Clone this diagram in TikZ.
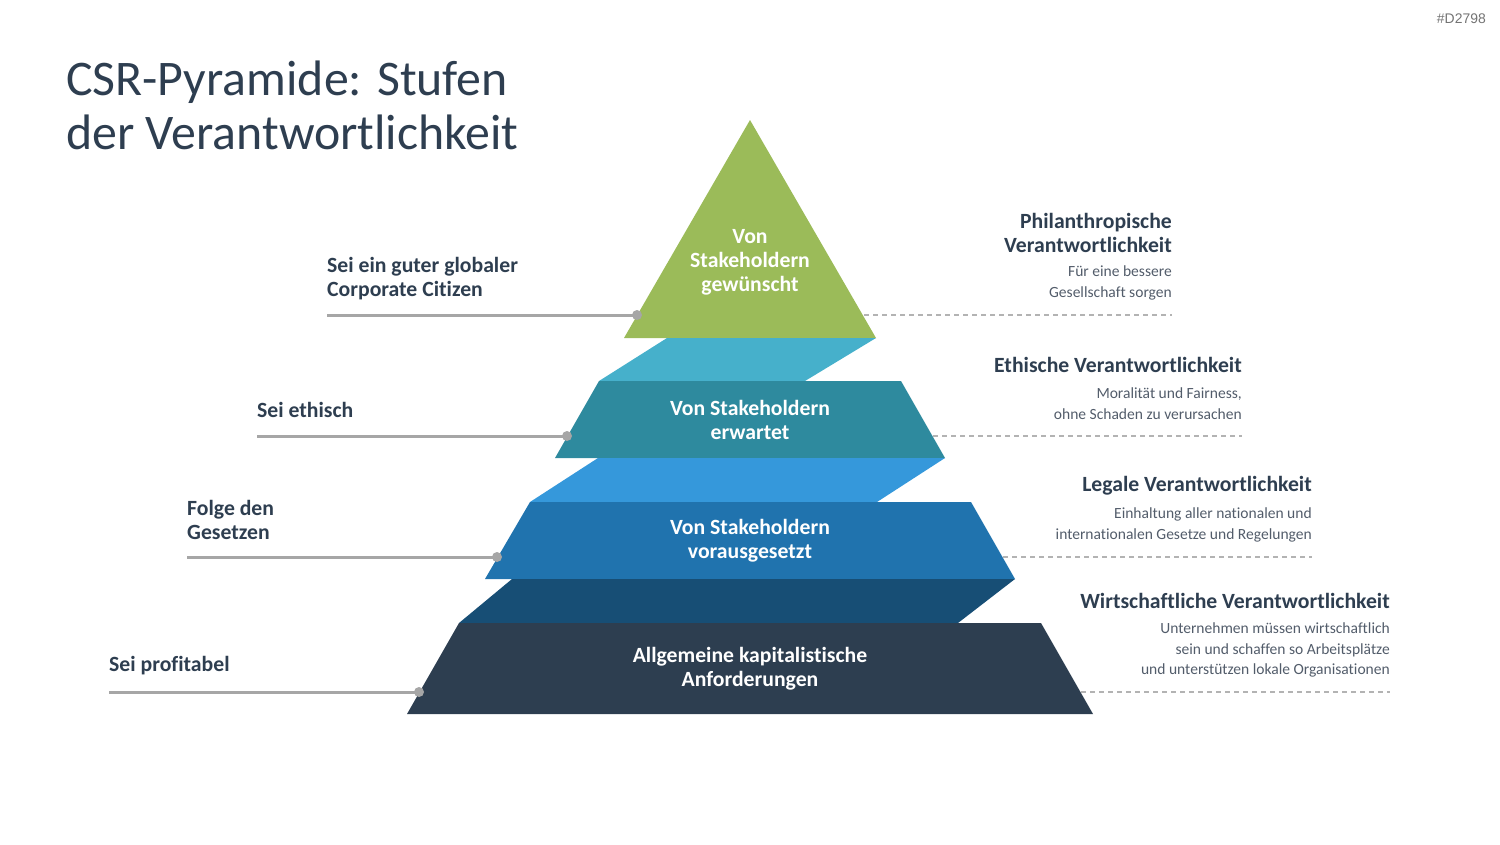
\documentclass[tikz,border=0pt]{standalone}
\usepackage{fontspec}
\setmainfont{Carlito}[Ligatures=CommonOff]
\newfontfamily\tagfont{Liberation Sans}
\usetikzlibrary{positioning}
\definecolor{ink}{RGB}{46,62,80}
\definecolor{descgray}{RGB}{82,92,106}
\definecolor{leadgray}{RGB}{166,166,166}
\definecolor{lvtop}{RGB}{155,187,89}
\definecolor{bandA}{RGB}{70,176,203}
\definecolor{lvtwo}{RGB}{46,138,158}
\definecolor{bandB}{RGB}{53,152,219}
\definecolor{lvthree}{RGB}{32,115,174}
\definecolor{bandC}{RGB}{23,78,117}
\definecolor{lvbase}{RGB}{45,62,80}
\tikzset{
  lvltext/.style ={text=white, align=center, inner sep=0pt,
                   font=\fontsize{21.8}{24}\selectfont\bfseries},
  goal/.style    ={text=ink, align=left, anchor=west, inner sep=0pt,
                   font=\fontsize{21.8}{24}\selectfont\bfseries},
  restitle/.style={text=ink, align=right, anchor=east, inner sep=0pt,
                   font=\fontsize{21.8}{24}\selectfont\bfseries},
  resdesc/.style ={text=descgray, align=right, anchor=east, inner sep=0pt,
                   font=\fontsize{15.6}{21}\selectfont},
  leader/.style  ={draw=leadgray, line width=3bp},
  dashlead/.style={draw=leadgray!85, line width=1.3bp, dash pattern=on 5bp off 4bp},
  pin/.style     ={circle, fill=leadgray, inner sep=0pt, minimum size=10bp},
}

\begin{document}
\begin{tikzpicture}[x=1bp, y=-1bp]
    \useasboundingbox (0,0) rectangle (1500,844);

    % title and tag
    \node[text=ink, align=left, anchor=west, inner sep=0pt,
          font=\fontsize{50}{54}\selectfont] (title) at (66,105)
        {CSR-Pyramide: Stufen\\der Verantwortlichkeit};
    \node[text=black!55, anchor=east, inner sep=0pt,
          font=\tagfont\fontsize{14}{16}\selectfont] (tag) at (1486,19) {\#D2798};

    % pyramid levels (top to bottom)
    \fill[lvtop]   (750,120) -- (876,338) -- (624,338) -- cycle;
    \fill[bandA]   (667,338) -- (876,338) -- (805,381) -- (599,381) -- cycle;
    \fill[lvtwo]   (599,381) -- (901,381) -- (945,458) -- (555,458) -- cycle;
    \fill[bandB]   (598,458) -- (945,458) -- (877,502) -- (530,502) -- cycle;
    \fill[lvthree] (530,502) -- (971,502) -- (1015,579) -- (485,579) -- cycle;
    \fill[bandC]   (512,579) -- (1015,579) -- (958,623) -- (459,623) -- cycle;
    \fill[lvbase]  (459,623) -- (1041,623) -- (1093,714) -- (407,714) -- cycle;

    \node[lvltext] (l1) at (750,262) {Von\\Stakeholdern\\gewünscht};
    \node[lvltext] (l2) at (750,420) {Von Stakeholdern\\erwartet};
    \node[lvltext] (l3) at (750,541) {Von Stakeholdern\\vorausgesetzt};
    \node[lvltext] (l4) at (750,669) {Allgemeine kapitalistische\\Anforderungen};

    % pins on the left edge, dashed ends on the right edge
    \coordinate (p1) at (637,315);
    \coordinate (p2) at (567,436);
    \coordinate (p3) at (497,557);
    \coordinate (p4) at (419,692);
    \coordinate (q1) at (864,315);
    \coordinate (q2) at (933,436);
    \coordinate (q3) at (1003,557);
    \coordinate (q4) at (1081,692);

    % goals (left)
    \node[goal] (g1) at (327,279) {Sei ein guter globaler\\Corporate Citizen};
    \node[goal] (g2) at (257,410) {Sei ethisch};
    \node[goal] (g3) at (187,520) {Folge den\\Gesetzen};
    \node[goal] (g4) at (109,666) {Sei profitabel};

    \draw[leader] (g1.west |- p1) -- (p1);
    \draw[leader] (g2.west |- p2) -- (p2);
    \draw[leader] (g3.west |- p3) -- (p3);
    \draw[leader] (g4.west |- p4) -- (p4);
    \foreach \p in {p1,p2,p3,p4}
      \node[pin] at (\p) {};

    % responsibilities (right)
    \node[restitle] (r1) at (1172,233) {Philanthropische\\Verantwortlichkeit};
    \node[resdesc]  (r1d) at (1172,283) {Für eine bessere\\Gesellschaft sorgen};
    \node[restitle] (r2) at (1242,365) {Ethische Verantwortlichkeit};
    \node[resdesc]  (r2d) at (1242,404) {Moralität und Fairness,\\ohne Schaden zu verursachen};
    \node[restitle] (r3) at (1312,486) {Legale Verantwortlichkeit};
    \node[resdesc]  (r3d) at (1312,525) {Einhaltung aller nationalen und\\internationalen Gesetze und Regelungen};
    \node[restitle] (r4) at (1390,601) {Wirtschaftliche Verantwortlichkeit};
    \node[resdesc]  (r4d) at (1390,650) {Unternehmen müssen wirtschaftlich\\sein und schaffen so Arbeitsplätze\\und unterstützen lokale Organisationen};

    \draw[dashlead] (q1) -- (r1.east |- q1);
    \draw[dashlead] (q2) -- (r2.east |- q2);
    \draw[dashlead] (q3) -- (r3.east |- q3);
    \draw[dashlead] (q4) -- (r4.east |- q4);
\end{tikzpicture}
\end{document}
